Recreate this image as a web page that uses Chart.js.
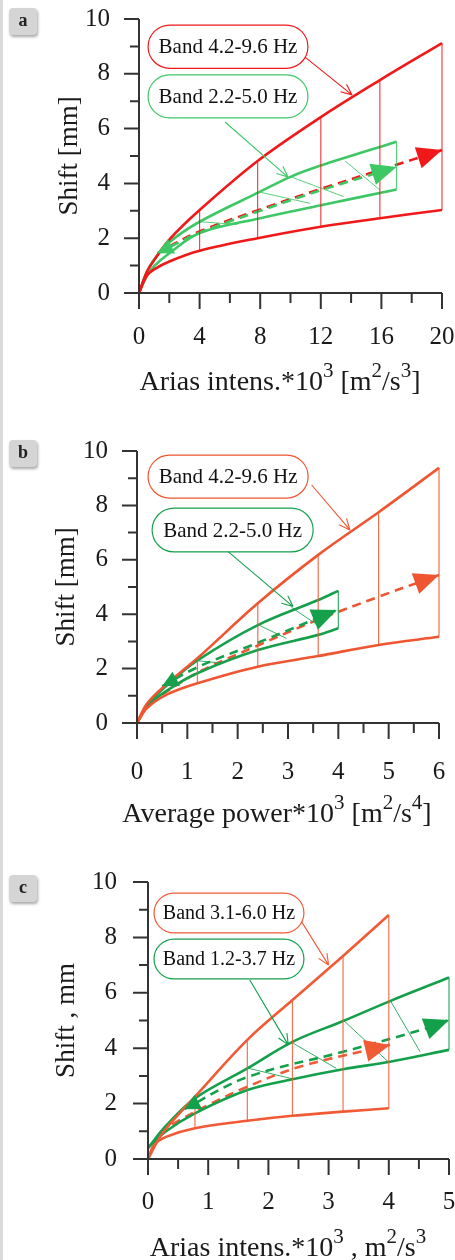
<!DOCTYPE html>
<html>
<head>
<meta charset="utf-8">
<script src="https://cdn.jsdelivr.net/npm/chart.js@4.4.1/dist/chart.umd.min.js"></script>
<style>
  html, body { margin: 0; padding: 0; background: #fff; width: 455px; height: 1260px; overflow: hidden; }
  .edge { position: absolute; left: 0; top: 0; width: 3px; height: 1260px; background: #dadada; }
  .panel { position: absolute; left: 0; width: 455px; }
  .tag { position: absolute; left: 9px; width: 28px; height: 27px; background: #d5d5d5; border-radius: 4px;
         box-shadow: 1px 2px 3px rgba(0,0,0,0.35); font: bold 18px "Liberation Serif", serif; color: #222;
         text-align: center; line-height: 25px; }
</style>
</head>
<body>
<div class="edge"></div>
<div class="panel" style="top:0;height:410px"><canvas id="chartA"></canvas></div>
<div class="panel" style="top:420px;height:420px"><canvas id="chartB"></canvas></div>
<div class="panel" style="top:850px;height:410px"><canvas id="chartC"></canvas></div>
<div class="tag" style="top:8px">a</div>
<div class="tag" style="top:440px">b</div>
<div class="tag" style="top:875px">c</div>
<script>
// ---- values: [x, shift mm] ----
// a) Arias intensity
const aRedUp  = [[0,0],[0.5,0.75],[1,1.2],[2,1.95],[4,3.03],[7.83,4.82],[12,6.42],[15.9,7.77],[20,9.12]];
const aRedLo  = [[0,0],[0.5,0.62],[1,0.86],[2,1.15],[4,1.54],[7.83,2.0],[12,2.42],[15.9,2.73],[20,3.03]];
const aGrnUp  = [[0,0],[0.5,0.75],[1,1.22],[2,1.85],[4,2.6],[8,3.7],[10,4.24],[12,4.65],[17,5.52]];
const aGrnLo  = [[0,0],[0.5,0.6],[1,0.98],[2,1.45],[4,2.19],[8,2.73],[12,3.2],[17,3.78]];
const aRedCuts = [4, 7.83, 12, 15.9, 20];
const aGrnHatch = [[[4,2.6],[6.5,2.5]], [[7.83,3.7],[11.3,3.27]], [[9.97,4.25],[13.5,3.52]], [[13.6,4.82],[15.9,3.76]]];
const aRedMean = [[2,1.7],[4,2.25],[8,3.05],[12,3.8],[16,4.5],[20,5.22]];
const aGrnMean = [[1.2,1.45],[4,2.2],[8,3.0],[12,3.75],[17,4.6]];
const aBands = ['Band 4.2-9.6 Hz', 'Band 2.2-5.0 Hz'];
const aXTitle = ['Arias intens.*10', '^3', ' [m', '^2', '/s', '^3', ']'];

// b) Average power
const bRedUp  = [[0,0],[0.2,0.72],[0.6,1.45],[1.2,2.38],[2.4,4.4],[3.6,6.18],[4.8,7.75],[6,9.38]];
const bRedLo  = [[0,0],[0.2,0.55],[0.6,1.05],[1.2,1.46],[2.4,2.07],[3.6,2.46],[4.8,2.87],[6,3.17]];
const bGrnUp  = [[0,0],[0.2,0.65],[0.6,1.4],[1.2,2.3],[2.4,3.6],[3.6,4.52],[4,4.86]];
const bGrnLo  = [[0,0],[0.2,0.6],[0.6,1.2],[1.2,1.83],[2.4,2.68],[3.6,3.24],[4,3.48]];
const bRedCuts = [1.2, 2.4, 3.6, 4.8, 6];
const bGrnHatch = [[[1.15,2.3],[1.7,2.2]], [[2.42,3.6],[2.97,3.11]], [[3.07,4.25],[3.55,3.65]]];
const bRedMean = [[0.5,1.05],[1.2,1.85],[2.4,2.85],[3.6,3.8],[4.8,4.64],[6,5.44]];
const bGrnMean = [[0.5,1.35],[1.2,2.05],[2.4,2.95],[3.97,4.15]];
const bBands = ['Band 4.2-9.6 Hz', 'Band 2.2-5.0 Hz'];
const bXTitle = ['Average power*10', '^3', ' [m', '^2', '/s', '^4', ']'];

// c) Arias intensity, second site
const cRedUp  = [[0,0],[0.2,0.8],[0.4,1.35],[0.78,2.25],[1.65,4.3],[2.4,5.74],[3.24,7.33],[4,8.81]];
const cRedLo  = [[0,0],[0.1,0.5],[0.3,0.8],[0.78,1.11],[1.65,1.38],[2.4,1.56],[3.24,1.71],[4,1.83]];
const cGrnUp  = [[0,0.4],[0.3,1.2],[0.78,2.19],[1.65,3.27],[2.4,4.23],[3.24,4.98],[4.02,5.7],[5,6.55]];
const cGrnLo  = [[0,0.4],[0.3,1.0],[0.78,1.65],[1.65,2.49],[2.4,2.88],[3.24,3.24],[4.02,3.51],[5,3.94]];
const cRedCuts = [0.78, 1.65, 2.4, 3.24, 4];
const cGrnHatch = [[[1.64,3.29],[2.41,2.89]], [[2.41,4.18],[3.13,3.27]], [[3.24,5.02],[3.99,3.51]], [[4.02,5.74],[4.52,3.87]]];
const cRedMean = [[0.4,1.25],[1,1.95],[1.64,2.6],[2.52,3.33],[4.02,4.12]];
const cGrnMean = [[0.6,1.8],[1.64,2.95],[3.24,3.87],[4.63,4.72],[5,5.02]];
const cBands = ['Band 3.1-6.0 Hz', 'Band 1.2-3.7 Hz'];
const cXTitle = ['Arias intens.*10', '^3', ' , m', '^2', '/s', '^3'];

const yTitles = ['Shift [mm]', 'Shift [mm]', 'Shift , mm'];

const SERIF = '"Liberation Serif", "DejaVu Serif", serif';

function pts(arr) { return arr.map(p => ({ x: p[0], y: p[1] })); }
function at(curve, x) { return curve.find(p => p[0] === x)[1]; }

function head(ctx, from, to, color, len, half) {
  const a = Math.atan2(to.y - from.y, to.x - from.x);
  ctx.save();
  ctx.fillStyle = color;
  ctx.translate(to.x, to.y);
  ctx.rotate(a);
  ctx.beginPath();
  ctx.moveTo(0, 0); ctx.lineTo(-len, -half); ctx.lineTo(-len, half);
  ctx.closePath(); ctx.fill();
  ctx.restore();
}

function pill(ctx, x, y, w, h) {
  const r = h / 2;
  ctx.beginPath();
  ctx.moveTo(x + r, y);
  ctx.lineTo(x + w - r, y);
  ctx.arc(x + w - r, y + r, r, -Math.PI / 2, Math.PI / 2);
  ctx.lineTo(x + r, y + h);
  ctx.arc(x + r, y + r, r, Math.PI / 2, Math.PI * 1.5);
  ctx.closePath();
}

function makeDecor(p) {
  return {
    id: 'decor',
    afterDatasetsDraw(chart) {
      const ctx = chart.ctx, xs = chart.scales.x, ys = chart.scales.y;
      const X = v => xs.getPixelForValue(v), Y = v => ys.getPixelForValue(v);
      chart.data.datasets.forEach((d, i) => {
        const m = chart.getDatasetMeta(i).data;
        if (d.arrowEnd) head(ctx, m[m.length - 2], m[m.length - 1], d.borderColor, 25, 11);
        if (d.arrowStart) head(ctx, m[1], m[0], d.borderColor, 16, 8);
      });
      // labels with leader arrows
      p.notes.forEach(n => {
        const x0 = X(n.box[0]), x1 = X(n.box[1]), y0 = Y(n.box[2]), y1 = Y(n.box[3]);
        ctx.save();
        pill(ctx, x0, y0, x1 - x0, y1 - y0);
        ctx.fillStyle = '#fff'; ctx.fill();
        ctx.strokeStyle = n.color; ctx.lineWidth = 1.2; ctx.stroke();
        ctx.fillStyle = '#111';
        ctx.font = p.noteFont + 'px ' + SERIF;
        ctx.textAlign = 'center'; ctx.textBaseline = 'middle';
        ctx.fillText(n.text, (x0 + x1) / 2, (y0 + y1) / 2 + 1);
        const fx = X(n.from[0]), fy = Y(n.from[1]), tx = X(n.to[0]), ty = Y(n.to[1]);
        ctx.beginPath(); ctx.moveTo(fx, fy); ctx.lineTo(tx, ty);
        const a = Math.atan2(ty - fy, tx - fx);
        [0.42, -0.42].forEach(s => {
          ctx.moveTo(tx, ty);
          ctx.lineTo(tx - 12 * Math.cos(a + s), ty - 12 * Math.sin(a + s));
        });
        ctx.lineWidth = 1.1; ctx.stroke();
        ctx.restore();
      });
    },
    afterDraw(chart) {
      const ctx = chart.ctx, xs = chart.scales.x, ys = chart.scales.y;
      const { left, bottom } = chart.chartArea;
      ctx.save();
      ctx.strokeStyle = '#333'; ctx.lineWidth = 2;
      ctx.beginPath();
      ctx.moveTo(left, ys.getPixelForValue(10)); ctx.lineTo(left, bottom);
      ctx.moveTo(left, bottom); ctx.lineTo(xs.getPixelForValue(p.xMax), bottom);
      for (let v = 0; v <= 10; v++) {
        const y = ys.getPixelForValue(v);
        ctx.moveTo(left - (v % 2 === 0 ? 15 : 9), y); ctx.lineTo(left, y);
      }
      const n = Math.round(p.xMax / p.xMinor);
      for (let k = 0; k <= n; k++) {
        const v = k * p.xMinor, x = xs.getPixelForValue(v);
        const major = Math.abs(v / p.xStep - Math.round(v / p.xStep)) < 1e-6;
        ctx.moveTo(x, bottom); ctx.lineTo(x, bottom + (major ? 16 : 10));
      }
      ctx.stroke();
      // axis titles
      ctx.fillStyle = '#1a1a1a';
      ctx.font = '27px ' + SERIF;
      ctx.textAlign = 'center'; ctx.textBaseline = 'middle';
      ctx.save();
      ctx.translate(p.yTitleX, (chart.chartArea.top + bottom) / 2);
      ctx.rotate(-Math.PI / 2);
      ctx.fillText(p.yTitle, 0, 0);
      ctx.restore();
      ctx.textAlign = 'left'; ctx.textBaseline = 'alphabetic';
      const parts = p.xTitle.map(s => s[0] === '^' ? { t: s.slice(1), sup: true } : { t: s, sup: false });
      const fontOf = q => (q.sup ? '21px ' : '28px ') + SERIF;
      let total = 0;
      parts.forEach(q => { ctx.font = fontOf(q); q.w = ctx.measureText(q.t).width; total += q.w; });
      let x = p.xTitleX - total / 2;
      parts.forEach(q => {
        ctx.font = fontOf(q);
        ctx.fillText(q.t, x, p.xTitleY - (q.sup ? 13 : 0));
        x += q.w;
      });
      ctx.restore();
    }
  };
}

function buildChart(p) {
  const ds = [];
  const line = (data, color, w, extra) => ds.push(Object.assign({
    data: pts(data), borderColor: color, backgroundColor: color, borderWidth: w,
    pointRadius: 0, pointHoverRadius: 0, fill: false, tension: 0, clip: false
  }, extra || {}));
  const smooth = { tension: 0.35 };
  p.redCuts.forEach(x => line([[x, at(p.redLo, x)], [x, at(p.redUp, x)]], p.redThin, 1.2));
  const gEnd = p.grnUp[p.grnUp.length - 1][0];
  line([[gEnd, at(p.grnLo, gEnd)], [gEnd, at(p.grnUp, gEnd)]], p.grnThin, 1.2);
  p.grnHatch.forEach(seg => line(seg, p.grnThin, 1));
  line(p.redUp, p.red, 2.6, smooth);
  line(p.redLo, p.red, 2.6, smooth);
  line(p.grnUp, p.grn, 2.6, smooth);
  line(p.grnLo, p.grn, 2.6, smooth);
  line(p.grnMean, p.grn, 2.6, Object.assign({ borderDash: [9, 6], arrowEnd: true, arrowStart: true }, smooth));
  line(p.redMean, p.red, 2.6, Object.assign({ borderDash: [9, 6], arrowEnd: true }, smooth));

  new Chart(document.getElementById(p.id), {
    type: 'line',
    data: { datasets: ds },
    options: {
      responsive: true, maintainAspectRatio: false, animation: false, devicePixelRatio: 1,
      layout: { autoPadding: false, padding: { left: 0, right: p.right, top: p.top, bottom: 0 } },
      plugins: { legend: { display: false }, tooltip: { enabled: false } },
      scales: {
        x: {
          type: 'linear', min: 0, max: p.xMax,
          grid: { display: false, drawTicks: false }, border: { display: false },
          ticks: { stepSize: p.xStep, autoSkip: false, maxRotation: 0, padding: p.xPad,
                   color: '#1a1a1a', font: { family: SERIF, size: 25 } },
          // fixed axis band; drop the label overhang so the plot box stays put
          afterFit: s => { s.height = p.xH; s.paddingLeft = 0; s.paddingRight = 0; }
        },
        y: {
          min: 0, max: 10,
          grid: { display: false, drawTicks: false }, border: { display: false },
          ticks: { stepSize: 2, padding: p.yPad, color: '#1a1a1a', font: { family: SERIF, size: 25 } },
          afterFit: s => { s.width = p.yW; s.paddingTop = 0; s.paddingBottom = 0; }
        }
      }
    },
    plugins: [makeDecor(p)]
  });
}

buildChart({
  id: 'chartA', xMax: 20, xStep: 4, xMinor: 2, top: 19, right: 13, yW: 139, xH: 117, yPad: 29, xPad: 29,
  red: '#f01818', redThin: 'rgba(240,24,24,0.8)', grn: '#3ec865', grnThin: 'rgba(62,200,101,0.85)',
  redUp: aRedUp, redLo: aRedLo, grnUp: aGrnUp, grnLo: aGrnLo, redCuts: aRedCuts, grnHatch: aGrnHatch,
  redMean: aRedMean, grnMean: aGrnMean,
  yTitle: yTitles[0], xTitle: aXTitle, yTitleX: 70, xTitleX: 280, xTitleY: 390, noteFont: 21,
  notes: [
    { box: [0.6, 11.15, 9.78, 8.2], text: aBands[0], color: '#f01818', from: [10.96, 8.61], to: [14.06, 7.23] },
    { box: [0.6, 11.15, 7.96, 6.39], text: aBands[1], color: '#3ec865', from: [5.68, 6.24], to: [9.83, 4.23] }
  ]
});

buildChart({
  id: 'chartB', xMax: 6, xStep: 1, xMinor: 0.5, top: 31, right: 16, yW: 137, xH: 117, yPad: 29, xPad: 34,
  red: '#ef5530', redThin: 'rgba(239,85,48,0.85)', grn: '#16a04c', grnThin: 'rgba(22,160,76,0.85)',
  redUp: bRedUp, redLo: bRedLo, grnUp: bGrnUp, grnLo: bGrnLo, redCuts: bRedCuts, grnHatch: bGrnHatch,
  redMean: bRedMean, grnMean: bGrnMean,
  yTitle: yTitles[1], xTitle: bXTitle, yTitleX: 67, xTitleX: 277, xTitleY: 402, noteFont: 21,
  notes: [
    { box: [0.22, 3.4, 9.85, 8.27], text: bBands[0], color: '#ef5530', from: [3.47, 8.75], to: [4.23, 7.1] },
    { box: [0.3, 3.5, 7.9, 6.29], text: bBands[1], color: '#16a04c', from: [1.81, 6.3], to: [3.1, 4.28] }
  ]
});

buildChart({
  id: 'chartC', xMax: 5, xStep: 1, xMinor: 0.5, top: 32, right: 6, yW: 148, xH: 101, yPad: 31, xPad: 28,
  red: '#f05a35', redThin: 'rgba(240,90,53,0.85)', grn: '#12a04a', grnThin: 'rgba(18,160,74,0.85)',
  redUp: cRedUp, redLo: cRedLo, grnUp: cGrnUp, grnLo: cGrnLo, redCuts: cRedCuts, grnHatch: cGrnHatch,
  redMean: cRedMean, grnMean: cGrnMean,
  yTitle: yTitles[2], xTitle: cXTitle, yTitleX: 67, xTitleX: 288, xTitleY: 406, noteFont: 20,
  notes: [
    { box: [0.1, 2.59, 9.6, 8.16], text: cBands[0], color: '#f05a35', from: [2.55, 8.57], to: [3.0, 7.0] },
    { box: [0.1, 2.59, 7.94, 6.5], text: cBands[1], color: '#12a04a', from: [1.69, 6.46], to: [2.33, 4.12] }
  ]
});
</script>
</body>
</html>
